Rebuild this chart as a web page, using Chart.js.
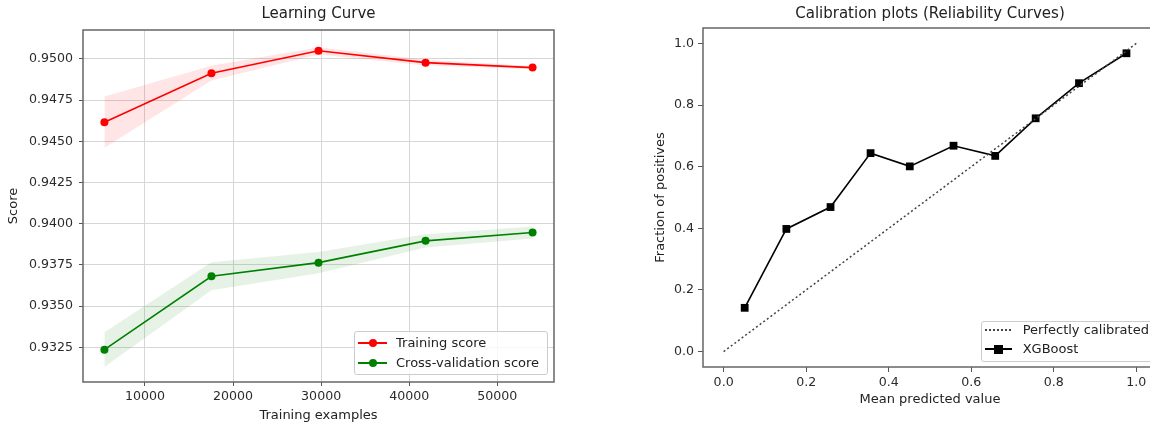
<!DOCTYPE html>
<html lang="en">
<head>
<meta charset="UTF-8">
<title>Learning curve and calibration</title>
<script src="https://cdn.jsdelivr.net/npm/chart.js@4"></script>
<style>
    html, body {
        margin: 0;
        padding: 0;
        background: #fff;
        width: 1150px;
        height: 423px;
        overflow: hidden;
    }
    body {
        position: relative;
        font-family: 'DejaVu Sans', sans-serif;
    }
    #lc { position: absolute; left: 0; top: 0; }
    #cal { position: absolute; left: 640px; top: 0; }
    .legend {
        position: absolute;
        box-sizing: border-box;
        background: rgba(255, 255, 255, 0.8);
        border: 1px solid #ccc;
        border-radius: 3px;
        font-size: 13px;
        color: #222;
    }
    .row {
        position: absolute;
        left: 0;
        height: 20px;
        width: 100%;
        white-space: nowrap;
    }
    .row .txt { position: absolute; top: 0; line-height: 20px; }
    .row .ln { position: absolute; top: 9px; height: 2px; }
    .row .dot { position: absolute; top: 6px; width: 8px; height: 8px; border-radius: 50%; }
    .row .sq { position: absolute; top: 5.5px; width: 9px; height: 9px; background: #000; }
    .row .dots { position: absolute; top: 9px; height: 0; border-top: 2px dotted #444; }
</style>
</head>
<body>
<canvas id="lc" width="570" height="423"></canvas>
<canvas id="cal" width="532" height="423"></canvas>

<div class="legend" style="left:354px; top:331px; width:194px; height:44px;">
    <div class="row" style="top:0.7px;">
        <span class="ln" style="left:3px; width:29px; background:#ff0000;"></span>
        <span class="dot" style="left:13.5px; background:#ff0000;"></span>
        <span class="txt" style="left:41px;">Training score</span>
    </div>
    <div class="row" style="top:20.7px;">
        <span class="ln" style="left:3px; width:29px; background:#008000;"></span>
        <span class="dot" style="left:13.5px; background:#008000;"></span>
        <span class="txt" style="left:41px;">Cross-validation score</span>
    </div>
</div>

<div class="legend" style="left:981px; top:321px; width:178px; height:41px;">
    <div class="row" style="top:-2px;">
        <span class="dots" style="left:3px; width:26px;"></span>
        <span class="txt" style="left:40.7px;">Perfectly calibrated</span>
    </div>
    <div class="row" style="top:17.3px;">
        <span class="ln" style="left:3px; width:27px; background:#000;"></span>
        <span class="sq" style="left:12px;"></span>
        <span class="txt" style="left:40.7px;">XGBoost</span>
    </div>
</div>

<script>
// Learning curve
const trainSizes = [5400, 17550, 29700, 41850, 54000];
const trainMean = [0.94616, 0.94913, 0.95049, 0.94977, 0.94947];
const trainStd = [0.00155, 0.00045, 0.00022, 0.00018, 0.00010];
const cvMean = [0.93236, 0.93681, 0.93764, 0.93896, 0.93947];
const cvStd = [0.00105, 0.00085, 0.00065, 0.00040, 0.00036];
const lcXTicks = [10000, 20000, 30000, 40000, 50000];
const lcYTicks = [0.9325, 0.9350, 0.9375, 0.9400, 0.9425, 0.9450, 0.9475, 0.9500];

// Calibration curve
const meanPredicted = [0.051, 0.152, 0.259, 0.356, 0.451, 0.557, 0.658, 0.756, 0.861, 0.976];
const fracPositives = [0.142, 0.398, 0.469, 0.644, 0.601, 0.668, 0.635, 0.757, 0.871, 0.968];
const diagX = [0, 1];
const diagY = [0, 1];
const calTicks = [0, 0.2, 0.4, 0.6, 0.8, 1.0];

Chart.defaults.font.family = "'DejaVu Sans', sans-serif";
Chart.defaults.color = '#2a2a2a';

// matplotlib style box around the plot area
const frame = {
    id: 'frame',
    afterDatasetsDraw(chart) {
        const { ctx, chartArea: a } = chart;
        ctx.save();
        ctx.strokeStyle = '#666';
        ctx.lineWidth = 1.5;
        ctx.strokeRect(a.left, a.top, a.right - a.left, a.bottom - a.top);
        ctx.restore();
    }
};

const pts = (xs, ys) => xs.map((x, i) => ({ x: x, y: ys[i] }));
const tickFont = { size: 12.6 };
const labelFont = { size: 13 };

new Chart(document.getElementById('lc'), {
    type: 'line',
    data: {
        datasets: [
            { data: pts(trainSizes, trainMean.map((m, i) => m + trainStd[i])), borderWidth: 0, pointRadius: 0, fill: '+1', backgroundColor: 'rgba(255,0,0,0.1)' },
            { data: pts(trainSizes, trainMean.map((m, i) => m - trainStd[i])), borderWidth: 0, pointRadius: 0, fill: false },
            { data: pts(trainSizes, cvMean.map((m, i) => m + cvStd[i])), borderWidth: 0, pointRadius: 0, fill: '+1', backgroundColor: 'rgba(0,128,0,0.1)' },
            { data: pts(trainSizes, cvMean.map((m, i) => m - cvStd[i])), borderWidth: 0, pointRadius: 0, fill: false },
            { label: 'Training score', data: pts(trainSizes, trainMean), borderColor: '#ff0000', borderWidth: 1.6, pointRadius: 4, pointBackgroundColor: '#ff0000', pointBorderWidth: 0 },
            { label: 'Cross-validation score', data: pts(trainSizes, cvMean), borderColor: '#008000', borderWidth: 1.6, pointRadius: 4, pointBackgroundColor: '#008000', pointBorderWidth: 0 }
        ]
    },
    options: {
        responsive: false,
        animation: false,
        events: [],
        elements: { line: { tension: 0 } },
        layout: { padding: { left: 0, right: 16, top: 0, bottom: 0 } },
        plugins: {
            legend: { display: false },
            tooltip: { enabled: false },
            title: { display: true, text: 'Learning Curve', fullSize: false, color: '#222', font: { size: 15, weight: 'normal' }, padding: { top: 5, bottom: 7 } }
        },
        scales: {
            x: {
                type: 'linear', min: 2970, max: 56430,
                afterBuildTicks: s => { s.ticks = lcXTicks.map(v => ({ value: v })); },
                afterFit: s => { s.height = 41; },
                grid: { color: '#d6d6d6', lineWidth: 1, tickColor: '#555', tickLength: 4 },
                border: { display: false },
                ticks: { font: tickFont, padding: 3, maxRotation: 0, callback: v => String(v) },
                title: { display: true, text: 'Training examples', color: '#222', font: labelFont, padding: { top: 0, bottom: 0 } }
            },
            y: {
                type: 'linear', min: 0.93040, max: 0.95175,
                afterBuildTicks: s => { s.ticks = lcYTicks.map(v => ({ value: v })); },
                afterFit: s => { s.width = 83; },
                grid: { color: '#d6d6d6', lineWidth: 1, tickColor: '#555', tickLength: 4 },
                border: { display: false },
                ticks: { font: tickFont, padding: 6, callback: v => v.toFixed(4) },
                title: { display: true, text: 'Score', color: '#222', font: labelFont, padding: { top: 6, bottom: 0 } }
            }
        }
    },
    plugins: [frame]
});

new Chart(document.getElementById('cal'), {
    type: 'line',
    data: {
        datasets: [
            { label: 'Perfectly calibrated', data: pts(diagX, diagY), borderColor: '#444', borderWidth: 1.5, borderDash: [2, 2.5], pointRadius: 0, fill: false },
            { label: 'XGBoost', data: pts(meanPredicted, fracPositives), borderColor: '#000', borderWidth: 1.6, pointStyle: 'rect', pointRadius: 5.5, pointBackgroundColor: '#000', pointBorderWidth: 0, fill: false }
        ]
    },
    options: {
        responsive: false,
        animation: false,
        events: [],
        elements: { line: { tension: 0 } },
        layout: { padding: { left: 0, right: 15, top: 0, bottom: 0 } },
        plugins: {
            legend: { display: false },
            tooltip: { enabled: false },
            title: { display: true, text: 'Calibration plots (Reliability Curves)', fullSize: false, color: '#222', font: { size: 15, weight: 'normal' }, padding: { top: 5, bottom: 5 } }
        },
        scales: {
            x: {
                type: 'linear', min: -0.05, max: 1.05,
                afterBuildTicks: s => { s.ticks = calTicks.map(v => ({ value: v })); },
                afterFit: s => { s.height = 56; },
                grid: { drawOnChartArea: false, tickColor: '#555', tickLength: 5 },
                border: { display: false },
                ticks: { font: tickFont, padding: 3, maxRotation: 0, callback: v => v.toFixed(1) },
                title: { display: true, text: 'Mean predicted value', color: '#222', font: labelFont, padding: { top: 0, bottom: 15.5 } }
            },
            y: {
                type: 'linear', min: -0.05, max: 1.05,
                afterBuildTicks: s => { s.ticks = calTicks.map(v => ({ value: v })); },
                afterFit: s => { s.width = 63; },
                grid: { drawOnChartArea: false, tickColor: '#555', tickLength: 5 },
                border: { display: false },
                ticks: { font: tickFont, padding: 4, callback: v => v.toFixed(1) },
                title: { display: true, text: 'Fraction of positives', color: '#222', font: labelFont, padding: { top: 12.5, bottom: 0 } }
            }
        }
    },
    plugins: [frame]
});
</script>
</body>
</html>
